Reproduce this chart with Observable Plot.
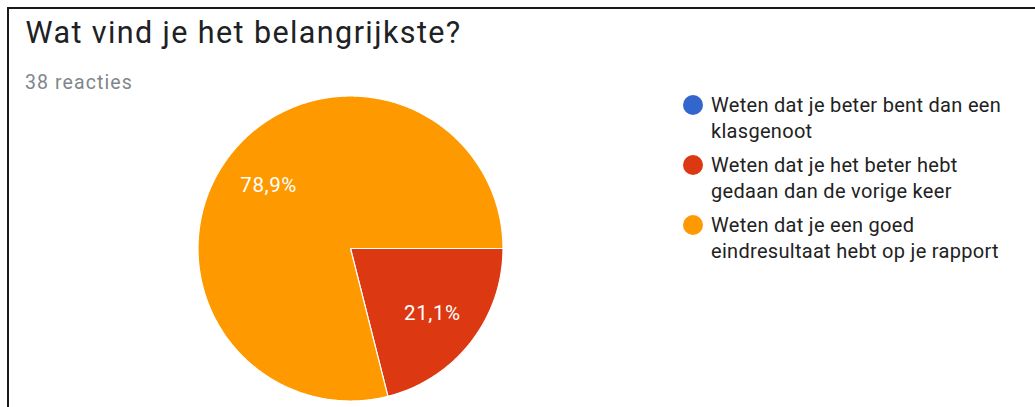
<!DOCTYPE html>
<html>
<head>
<meta charset="utf-8">
<script src="https://cdn.jsdelivr.net/npm/d3@7"></script>
<script src="https://cdn.jsdelivr.net/npm/@observablehq/plot@0.6"></script>
<style>
  html, body { margin: 0; padding: 0; background: #fff; }
  body { width: 1035px; height: 407px; overflow: hidden; font-family: Roboto, "Noto Sans", sans-serif; }
  #frame { position: absolute; left: 7px; top: 7px; width: 1040px; height: 420px;
           border-top: 2px solid #1a1a1a; border-left: 2px solid #1a1a1a; box-sizing: border-box; }
  #title { position: absolute; left: 25.5px; top: 18px; font-size: 30.5px; line-height: 30.5px; letter-spacing: 1.4px; color: #202124; white-space: nowrap; }
  #subtitle { position: absolute; left: 25px; top: 72.5px; font-size: 19.5px; line-height: 19.5px; letter-spacing: 1.1px; color: #80868b; white-space: nowrap; }
  #chart { position: absolute; left: 190px; top: 88px; }
  #legend { position: absolute; left: 683px; top: 92px; display: flex; flex-direction: column; gap: 8px; }
  .item { position: relative; padding-left: 28px; font-size: 20px; line-height: 26px; letter-spacing: 0.3px; color: #222; white-space: pre; }
  .sw { position: absolute; left: 0; top: 3px; width: 20px; height: 20px; border-radius: 50%; }
</style>
</head>
<body>
<div id="frame"></div>
<div id="title"></div>
<div id="subtitle"></div>
<div id="chart"></div>
<div id="legend"></div>
<script>
const title = "Wat vind je het belangrijkste?";
const subtitle = "38 reacties";
const categories = [
  "Weten dat je beter bent dan een\nklasgenoot",
  "Weten dat je het beter hebt\ngedaan dan de vorige keer",
  "Weten dat je een goed\neindresultaat hebt op je rapport"
];
const counts = [0, 8, 30];
const colors = ["#3366cc", "#dc3912", "#ff9900"];

document.getElementById("title").textContent = title;
document.getElementById("subtitle").textContent = subtitle;

const total = d3.sum(counts);
const arcs = d3.pie().sort(null).startAngle(Math.PI / 2).endAngle(Math.PI / 2 + 2 * Math.PI)(counts);

// slice outlines (center -> arc -> center), clockwise from 12 o'clock
const slices = arcs.map((a, i) => {
  const pts = [{x: 0, y: 0}];
  const n = Math.max(2, Math.ceil((a.endAngle - a.startAngle) / 0.01));
  for (let k = 0; k <= n; k++) {
    const t = a.startAngle + (a.endAngle - a.startAngle) * k / n;
    pts.push({x: Math.sin(t), y: Math.cos(t)});
  }
  pts.push({x: 0, y: 0});
  return {pts, color: colors[i], value: a.value};
});

const labels = arcs.filter(a => a.value > 0).map(a => {
  const m = (a.startAngle + a.endAngle) / 2;
  return {x: 0.68 * Math.sin(m), y: 0.68 * Math.cos(m),
          text: (a.value / total * 100).toFixed(1).replace(".", ",") + "%"};
});

const marks = slices.filter(s => s.value > 0).map(s =>
  Plot.line(s.pts, {x: "x", y: "y", fill: s.color, stroke: "white", strokeWidth: 1.2, strokeLinejoin: "round"})
);
marks.push(Plot.text(labels, {x: "x", y: "y", text: "text", fill: "white", fontSize: 20.5,
  fontFamily: "Roboto, sans-serif", textAnchor: "middle", dy: 1}));

const plot = Plot.plot({
  width: 320, height: 320,
  margin: 7.5,
  x: {domain: [-1, 1], axis: null},
  y: {domain: [-1, 1], axis: null},
  style: {background: "transparent", overflow: "visible"},
  marks
});
d3.select(plot).selectAll("text").attr("letter-spacing", "0.6px");
document.getElementById("chart").appendChild(plot);

const legend = document.getElementById("legend");
categories.forEach((c, i) => {
  const it = document.createElement("div");
  it.className = "item";
  const sw = document.createElement("span");
  sw.className = "sw";
  sw.style.background = colors[i];
  it.appendChild(sw);
  it.appendChild(document.createTextNode(c));
  legend.appendChild(it);
});
</script>
</body>
</html>
